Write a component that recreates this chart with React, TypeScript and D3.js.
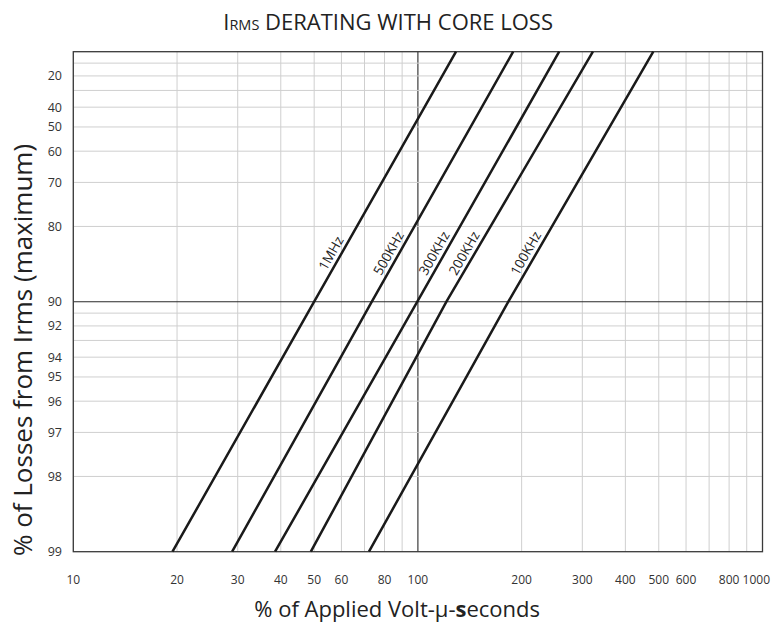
import React from "react";
import * as d3 from "d3";

// ---- data ----
const seriesNames = ["1MHz", "500KHz", "300KHz", "200KHz", "100KHz"];
// each series: [loss %, volt-µs %] points
const series1MHz = [[99, 19.4], [90, 50.0], [0, 129]];
const series500K = [[99, 28.9], [90, 73.5], [0, 189]];
const series300K = [[99, 38.5], [90, 99.6], [0, 257]];
const series200K = [[99, 48.9], [90, 121], [0, 322]];
const series100K = [[99, 72.1], [90, 183], [0, 482]];
const allSeries = [series1MHz, series500K, series300K, series200K, series100K];

const xGridValues = [10, 20, 30, 40, 50, 60, 70, 80, 90, 100, 200, 300, 400, 500, 600, 700, 800, 900, 1000];
const xTickLabels = [10, 20, 30, 40, 50, 60, 80, 100, 200, 300, 400, 500, 600, 800, 1000];
const yGridValues = [10, 20, 30, 40, 50, 60, 70, 80, 90, 91, 92, 93, 94, 95, 96, 97, 98];
const yTickLabels = [20, 40, 50, 60, 70, 80, 90, 92, 94, 95, 96, 97, 98, 99];
const labelLoss = 85; // loss % level where line labels sit

const W = 771, H = 629;
const left = 73.3, right = 762.5, top = 51.7, bottom = 551.7;
const font = "'Open Sans', 'Noto Sans', sans-serif";

export default function App() {
  const x = d3.scaleLog().domain([10, 1000]).range([left, right]);
  const yLog = d3.scaleLog().domain([100, 1]).range([top, bottom]);
  const y = (v: number) => yLog(100 - v);

  const line = d3
    .line<number[]>()
    .x((d) => x(d[1]))
    .y((d) => y(d[0]));

  return (
    <svg
      width={W}
      height={H}
      style={{ position: "absolute", left: 0, top: 0, background: "#fff" }}
      fontFamily={font}
    >
      <rect x={0} y={0} width={W} height={H} fill="#fff" />
      {/* grid */}
      {xGridValues.map((v) => (
        <line
          key={"xg" + v}
          x1={x(v)}
          x2={x(v)}
          y1={top}
          y2={bottom}
          stroke={v === 100 ? "#2a2a2a" : "#cfcfcf"}
          strokeWidth={v === 100 ? 1.1 : 1}
        />
      ))}
      {yGridValues.map((v) => (
        <line
          key={"yg" + v}
          x1={left}
          x2={right}
          y1={y(v)}
          y2={y(v)}
          stroke={v === 90 ? "#2a2a2a" : "#cfcfcf"}
          strokeWidth={v === 90 ? 1.1 : 1}
        />
      ))}
      <rect
        x={left}
        y={top}
        width={right - left}
        height={bottom - top}
        fill="none"
        stroke="#3a3a3a"
        strokeWidth={1.3}
      />
      {/* data lines */}
      {allSeries.map((s, i) => (
        <path key={"s" + i} d={line(s) || ""} fill="none" stroke="#1a1a1a" strokeWidth={2.5} />
      ))}
      {/* line labels */}
      {allSeries.map((s, i) => {
        const p0 = s[0];
        const p1 = s[s.length - 1];
        const x0 = x(p0[1]), y0 = y(p0[0]);
        const x1 = x(p1[1]), y1 = y(p1[0]);
        const ang = (Math.atan2(y1 - y0, x1 - x0) * 180) / Math.PI;
        const yl = y(labelLoss);
        const interp = d3
          .scaleLinear()
          .domain(s.map((d) => y(d[0])))
          .range(s.map((d) => x(d[1])));
        const xl = interp(yl);
        const rad = (ang * Math.PI) / 180;
        const off = 4.5;
        const px = xl + Math.sin(rad) * off;
        const py = yl - Math.cos(rad) * off;
        return (
          <text
            key={"l" + i}
            transform={`translate(${px},${py}) rotate(${ang})`}
            textAnchor="middle"
            fontSize={13.5}
            fill="#222"
          >
            {seriesNames[i]}
          </text>
        );
      })}
      {/* y tick labels */}
      {yTickLabels.map((v) => (
        <text key={"yt" + v} x={62} y={y(v)} dy="0.35em" textAnchor="end" fontSize={12.5} fill="#333">
          {v}
        </text>
      ))}
      {/* x tick labels */}
      {xTickLabels.map((v) => {
        const last = v === 1000;
        return (
          <text
            key={"xt" + v}
            x={last ? 770 : x(v)}
            y={584}
            textAnchor={last ? "end" : "middle"}
            fontSize={12}
            fill="#333"
          >
            {v}
          </text>
        );
      })}
      {/* title */}
      <text x={553} y={30} textAnchor="end" fontSize={22} fill="#222">
        I<tspan fontSize={14.5}>RMS</tspan> DERATING WITH CORE LOSS
      </text>
      {/* axis titles */}
      <text x={540} y={617} textAnchor="end" fontSize={22} fill="#222">
        % of Applied Volt-µ-<tspan fontWeight="bold">s</tspan>econds
      </text>
      <text
        transform={`translate(31.5,350) rotate(-90)`}
        textAnchor="middle"
        fontSize={26}
        fill="#222"
      >
        % of Losses from Irms (maximum)
      </text>
    </svg>
  );
}
